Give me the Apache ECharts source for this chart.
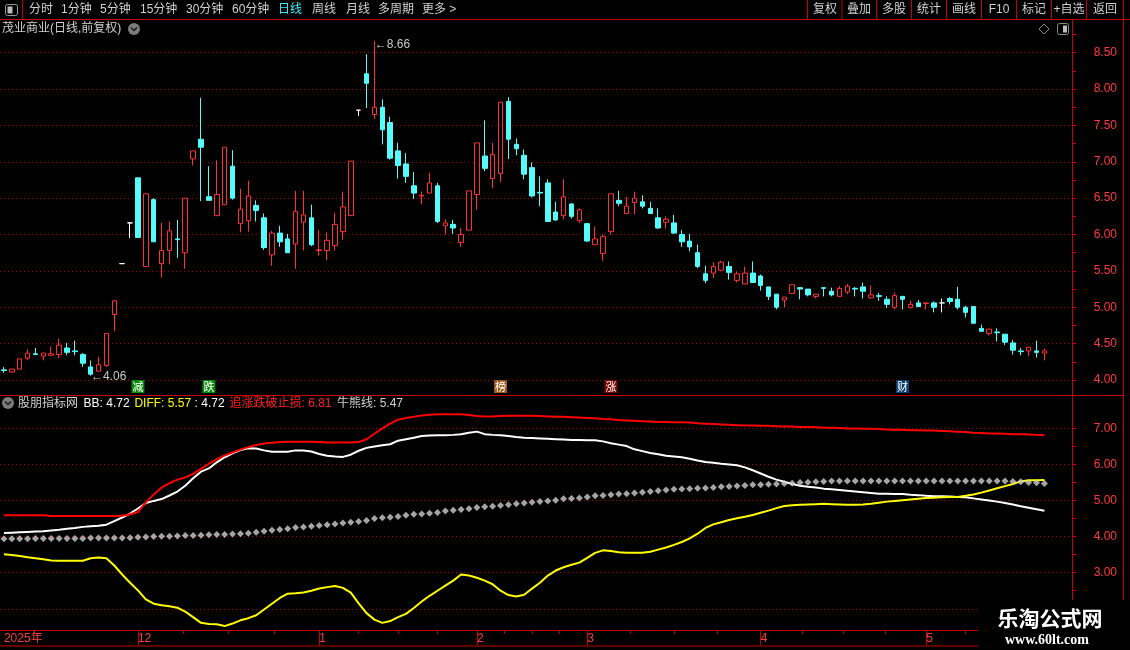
<!DOCTYPE html>
<html><head><meta charset="utf-8">
<script src="https://cdn.jsdelivr.net/npm/echarts@6/dist/echarts.min.js"></script>
<style>html,body{margin:0;padding:0;background:#000;overflow:hidden}#c{width:1130px;height:650px}</style>
</head><body><div id="c"></div>
<script>
// ---------------- data ----------------
const SLOTS = 136;
const categories = Array.from({length: SLOTS}, (_, i) => 'D' + (i + 1));

const open = [4.14,4.11,4.15,4.30,4.36,4.33,4.34,4.35,4.44,4.40,
4.35,4.18,4.12,4.20,4.90,5.60,6.16,6.78,5.56,6.48,
5.60,5.78,5.94,5.75,7.04,7.31,6.52,6.26,6.41,6.94,
6.15,6.19,6.40,6.23,5.72,6.02,5.94,5.87,6.17,6.23,
5.78,5.78,5.85,6.04,6.26,7.71,8.21,7.65,7.75,7.54,
7.15,6.97,6.67,6.53,6.57,6.67,6.12,6.14,5.89,6.06,
6.55,7.08,6.77,6.84,7.83,7.24,7.09,6.92,6.58,6.71,
6.31,6.26,6.42,6.19,6.15,5.86,5.74,6.04,6.47,6.29,
6.44,6.45,6.36,6.23,6.17,6.16,6.00,5.91,5.75,5.46,
5.47,5.51,5.56,5.37,5.32,5.47,5.43,5.28,5.18,5.10,
5.19,5.27,5.25,5.15,5.27,5.22,5.15,5.21,5.26,5.28,
5.13,5.16,5.11,5.00,5.15,5.00,5.06,5.05,5.06,5.06,
5.12,5.11,5.00,5.01,4.71,4.64,4.66,4.63,4.51,4.40,
4.40,4.40,4.37];
const close = [4.13,4.15,4.29,4.37,4.35,4.37,4.36,4.48,4.38,4.39,
4.23,4.08,4.21,4.64,5.09,5.60,6.16,5.96,6.56,5.90,
5.78,6.05,5.93,6.50,7.15,7.20,6.47,6.55,7.20,6.50,
6.35,6.53,6.33,5.82,6.02,5.90,5.75,6.32,6.27,5.86,
5.79,5.92,6.14,6.38,7.01,7.71,8.08,7.75,7.44,7.05,
6.95,6.80,6.57,6.54,6.71,6.18,6.16,6.09,6.00,6.60,
7.26,6.91,7.10,7.82,7.31,7.18,6.83,6.53,6.57,6.18,
6.20,6.52,6.25,6.34,5.91,5.94,5.97,6.56,6.43,6.39,
6.50,6.39,6.29,6.09,6.21,6.02,5.90,5.83,5.56,5.37,
5.56,5.62,5.48,5.46,5.47,5.34,5.30,5.15,5.00,5.14,
5.31,5.25,5.17,5.18,5.26,5.17,5.26,5.29,5.25,5.22,
5.17,5.15,5.04,5.16,5.11,5.04,5.01,5.06,5.00,5.06,
5.08,5.00,4.93,4.78,4.67,4.70,4.65,4.52,4.41,4.39,
4.45,4.38,4.40];
const low = [4.10,4.10,4.15,4.27,4.35,4.27,4.34,4.30,4.34,4.34,
4.18,4.06,4.12,4.18,4.67,5.60,5.95,5.95,5.56,5.90,
5.41,5.59,5.68,5.53,6.95,6.46,6.47,6.26,6.41,6.48,
6.03,6.04,6.18,5.79,5.57,5.83,5.75,5.53,5.78,5.84,
5.71,5.65,5.78,5.93,6.26,7.63,7.74,7.59,7.24,7.03,
6.77,6.71,6.49,6.42,6.57,6.16,6.00,6.01,5.83,6.06,
6.34,6.87,6.64,6.72,7.04,7.09,6.76,6.51,6.39,6.18,
6.19,6.21,6.22,6.16,5.90,5.86,5.64,6.00,6.39,6.29,
6.28,6.36,6.28,6.08,6.08,6.01,5.83,5.77,5.54,5.33,
5.40,5.51,5.38,5.34,5.32,5.34,5.23,5.10,4.97,5.00,
5.19,5.11,5.15,5.12,5.15,5.15,5.15,5.18,5.15,5.12,
5.12,5.09,4.99,4.97,4.97,4.98,5.00,4.97,4.93,4.93,
5.04,4.97,4.86,4.78,4.66,4.61,4.53,4.48,4.35,4.34,
4.33,4.31,4.27];
const high = [4.18,4.15,4.29,4.42,4.44,4.37,4.46,4.57,4.51,4.54,
4.37,4.27,4.32,4.64,5.09,5.60,6.16,6.78,6.56,6.50,
6.16,6.18,6.20,6.50,7.15,7.88,6.94,7.02,7.20,7.16,
6.63,6.74,6.47,6.29,6.05,6.12,6.01,6.60,6.60,6.41,
6.06,6.03,6.30,6.59,7.01,7.71,8.48,8.66,7.86,7.62,
7.26,7.12,6.86,6.59,6.85,6.71,6.21,6.20,6.09,6.60,
7.26,7.57,7.26,7.82,7.89,7.32,7.17,6.99,6.80,6.76,
6.45,6.76,6.43,6.36,6.16,6.11,6.00,6.56,6.60,6.52,
6.59,6.54,6.45,6.36,6.25,6.27,6.06,6.01,5.86,5.57,
5.62,5.64,5.63,5.49,5.56,5.63,5.45,5.28,5.18,5.14,
5.31,5.28,5.25,5.18,5.27,5.27,5.29,5.32,5.28,5.34,
5.30,5.20,5.15,5.20,5.15,5.09,5.10,5.06,5.08,5.12,
5.14,5.28,5.02,5.01,4.76,4.70,4.71,4.63,4.55,4.44,
4.45,4.54,4.43];

// indicator lines (lower panel)
const stopLine = [4.59,4.59,4.59,4.59,4.59,4.59,4.57,4.57,4.57,4.57,
4.57,4.57,4.57,4.57,4.57,4.58,4.62,4.68,4.95,5.17,
5.36,5.48,5.58,5.64,5.74,5.88,6.02,6.14,6.25,6.33,
6.41,6.48,6.54,6.58,6.60,6.62,6.63,6.63,6.63,6.63,
6.62,6.61,6.61,6.61,6.61,6.62,6.70,6.85,7.00,7.13,
7.24,7.29,7.32,7.36,7.38,7.39,7.39,7.39,7.39,7.37,
7.34,7.33,7.33,7.34,7.35,7.35,7.35,7.35,7.34,7.33,
7.32,7.32,7.31,7.30,7.29,7.28,7.26,7.25,7.23,7.22,
7.21,7.20,7.19,7.18,7.18,7.17,7.17,7.16,7.14,7.13,
7.12,7.11,7.10,7.09,7.08,7.08,7.07,7.07,7.06,7.05,
7.05,7.04,7.04,7.03,7.02,7.02,7.01,7.00,7.00,6.99,
6.99,6.98,6.97,6.96,6.96,6.95,6.95,6.94,6.94,6.93,
6.92,6.91,6.90,6.88,6.87,6.86,6.86,6.85,6.84,6.84,
6.83,6.82,6.81];
const bbLine = [4.10,4.11,4.12,4.13,4.14,4.15,4.17,4.19,4.22,4.24,
4.27,4.29,4.30,4.33,4.43,4.53,4.64,4.78,4.93,4.99,
5.04,5.14,5.25,5.41,5.62,5.80,5.89,6.06,6.20,6.31,
6.40,6.45,6.44,6.39,6.35,6.35,6.35,6.39,6.39,6.36,
6.29,6.24,6.22,6.21,6.27,6.38,6.46,6.50,6.53,6.56,
6.66,6.70,6.74,6.79,6.80,6.81,6.81,6.82,6.84,6.88,
6.91,6.84,6.82,6.81,6.79,6.76,6.74,6.73,6.72,6.71,
6.70,6.69,6.68,6.68,6.67,6.67,6.64,6.59,6.55,6.51,
6.42,6.37,6.32,6.28,6.24,6.22,6.20,6.16,6.11,6.07,
6.05,6.02,6.00,5.98,5.92,5.84,5.75,5.66,5.58,5.52,
5.46,5.41,5.38,5.36,5.33,5.31,5.29,5.27,5.25,5.23,
5.21,5.19,5.19,5.18,5.18,5.16,5.15,5.13,5.12,5.12,
5.11,5.10,5.09,5.06,5.03,5.00,4.97,4.93,4.89,4.84,
4.80,4.76,4.72];
const diffLine = [3.51,3.49,3.46,3.43,3.40,3.37,3.34,3.33,3.33,3.33,
3.33,3.40,3.42,3.40,3.20,2.95,2.72,2.51,2.26,2.14,
2.10,2.07,2.03,1.92,1.77,1.61,1.58,1.57,1.52,1.59,
1.68,1.74,1.82,1.98,2.14,2.30,2.42,2.43,2.45,2.50,
2.56,2.60,2.63,2.58,2.45,2.15,1.88,1.70,1.61,1.66,
1.77,1.86,2.02,2.20,2.36,2.50,2.64,2.78,2.95,2.92,
2.86,2.78,2.68,2.50,2.38,2.34,2.39,2.56,2.72,2.92,
3.06,3.15,3.22,3.28,3.41,3.55,3.62,3.60,3.57,3.55,
3.55,3.55,3.58,3.64,3.70,3.77,3.85,3.95,4.08,4.24,
4.34,4.40,4.46,4.51,4.55,4.60,4.66,4.72,4.79,4.85,
4.87,4.88,4.89,4.90,4.91,4.90,4.89,4.88,4.88,4.89,
4.91,4.94,4.97,4.99,5.01,5.03,5.05,5.07,5.08,5.09,
5.10,5.10,5.13,5.17,5.22,5.28,5.34,5.40,5.46,5.53,
5.56,5.56,5.57];
const bullBear = [3.94,3.94,3.94,3.94,3.95,3.95,3.95,3.95,3.95,3.95,
3.95,3.96,3.96,3.96,3.96,3.96,3.97,3.98,3.99,4.00,
4.01,4.01,4.02,4.03,4.03,4.04,4.05,4.06,4.06,4.07,
4.08,4.09,4.12,4.15,4.18,4.20,4.22,4.25,4.27,4.29,
4.31,4.33,4.35,4.38,4.40,4.42,4.45,4.50,4.52,4.54,
4.56,4.59,4.62,4.63,4.65,4.67,4.71,4.73,4.75,4.77,
4.81,4.83,4.84,4.86,4.88,4.91,4.93,4.95,4.97,4.99,
5.01,5.05,5.06,5.07,5.10,5.13,5.14,5.16,5.18,5.19,
5.21,5.23,5.25,5.27,5.29,5.31,5.32,5.33,5.34,5.35,
5.36,5.38,5.39,5.40,5.42,5.44,5.44,5.45,5.46,5.47,
5.48,5.50,5.51,5.52,5.53,5.54,5.54,5.54,5.54,5.54,
5.54,5.54,5.54,5.54,5.54,5.54,5.54,5.54,5.54,5.54,
5.54,5.54,5.54,5.54,5.54,5.54,5.54,5.54,5.53,5.52,
5.50,5.49,5.47];

// event tags under candles
const eventIdx = [17, 26, 63, 77, 114];
const eventText = ['减', '跌', '榜', '涨', '财'];

// axis ticks / labels
const priceTicks = [4.00,4.25,4.50,4.75,5.00,5.25,5.50,5.75,6.00,6.25,6.50,6.75,7.00,7.25,7.50,7.75,8.00,8.25,8.50,8.75];
const priceLabels = [4.00,4.50,5.00,5.50,6.00,6.50,7.00,7.50,8.00,8.50];
const indTicks = [2.0,2.5,3.0,3.5,4.0,4.5,5.0,5.5,6.0,6.5,7.0];
const indLabels = [2,3,4,5,6,7];
const monthPos = [0, 17, 40, 60, 74, 96, 117];
const monthLabels = ['2025年', '12', '1', '2', '3', '4', '5'];

// ---------------- styles ----------------
const RED = '#ff3232', CYAN = '#54fcfc', FRAME = '#c40000', AXTXT = '#ff3c3c', GRIDC = '#a80000';
const FONT = '"Liberation Sans","Noto Sans CJK SC",sans-serif';
const tagStyle = {'减': '#0a8a0a', '跌': '#0a8a0a', '榜': '#9b5a17', '涨': '#7a0808', '财': '#0d3f6e'};

const kData = open.map((o, i) => [o, close[i], low[i], high[i]]);
const last = a => a[a.length - 1].toFixed(2);

const monthTickPos = monthPos.slice(1);
const quarterPos = [];
const bounds = monthPos.slice(1).concat([137]);
for (let m = 0; m < bounds.length - 1; m++) {
  for (let k = 1; k < 4; k++) {
    const v = bounds[m] + (bounds[m + 1] - bounds[m]) * k / 4;
    if (v < SLOTS - 3) quarterPos.push(v);
  }
}

const G0 = {top: 19, height: 376}, G1 = {top: 395, height: 235};
const pMin = 4 - (395 - 380) / 72.73, pMax = 4 + (380 - 19) / 72.73;
const iMin = 3 - (630 - 572.7) / 36.08, iMax = 3 + (572.7 - 395) / 36.08;

const chart = echarts.init(document.getElementById('c'), null, {renderer: 'canvas'});

const g = [];
function txt(x, y, s, color, size, align, extra) {
  g.push(Object.assign({type: 'text', x, y, z: 50, style: {text: s, fill: color, font: (size || 12) + 'px ' + FONT, textAlign: align || 'left', textVerticalAlign: 'middle'}}, extra || {}));
}
function line(x1, y1, x2, y2, color, w) {
  g.push({type: 'line', z: 40, shape: {x1, y1, x2, y2}, style: {stroke: color || FRAME, lineWidth: w || 1}});
}
// toolbar
line(0, 19.5, 1130, 19.5);
line(22.5, 0, 22.5, 19);
[807.5, 842, 876.5, 911.5, 946.5, 981.5, 1016.5, 1051.5, 1086.5, 1123.5].forEach(x => line(x, 0, x, 19));
g.push({type: 'rect', z: 50, shape: {x: 5.5, y: 4.5, width: 12, height: 11, r: 2}, style: {stroke: '#9a9a9a', fill: 'none', lineWidth: 1}});
g.push({type: 'rect', z: 50, shape: {x: 7.5, y: 6.5, width: 5, height: 7}, style: {fill: '#bdbdbd'}});
[['分时', 29], ['1分钟', 61], ['5分钟', 100], ['15分钟', 140], ['30分钟', 186], ['60分钟', 232], ['日线', 278], ['周线', 312], ['月线', 346], ['多周期', 378], ['更多 >', 422]]
  .forEach(([s, x]) => txt(x, 10, s, s === '日线' ? '#3ff0ff' : '#d0d0d0', 12));
[['复权', 825], ['叠加', 859], ['多股', 894], ['统计', 929], ['画线', 964], ['F10', 999], ['标记', 1034], ['+自选', 1069], ['返回', 1105]]
  .forEach(([s, x]) => txt(x, 10, s, '#d0d0d0', 12, 'center'));
// title row
txt(2, 29, '茂业商业(日线,前复权)', '#d0d0d0', 12);
function chevron(cx, cy) {
  g.push({type: 'circle', z: 50, shape: {cx, cy, r: 6}, style: {fill: '#7c7c7c'}});
  g.push({type: 'polyline', z: 51, shape: {points: [[cx - 3, cy - 1.5], [cx, cy + 1.5], [cx + 3, cy - 1.5]]}, style: {stroke: '#1a1a1a', lineWidth: 1.5, fill: 'none'}});
}
chevron(134, 29);
g.push({type: 'polygon', z: 50, shape: {points: [[1044, 24], [1049, 29], [1044, 34], [1039, 29]]}, style: {stroke: '#8a8a8a', fill: 'none', lineWidth: 1}});
g.push({type: 'rect', z: 50, shape: {x: 1057.5, y: 23.5, width: 11, height: 11, r: 2}, style: {stroke: '#8a8a8a', fill: 'none', lineWidth: 1}});
g.push({type: 'rect', z: 50, shape: {x: 1063, y: 25.5, width: 4, height: 7}, style: {fill: '#bdbdbd'}});
// frame
line(0, 395.5, 1123, 395.5);
line(1123.5, 19, 1123.5, 600);
line(0, 646, 978, 646);
// lower legend
chevron(8, 403);
txt(18, 404, '股朋指标网', '#cfcfcf', 12);
txt(83.6, 404, 'BB: ' + last(bbLine), '#ffffff', 12);
txt(134.4, 404, 'DIFF: ' + last(diffLine), '#ffff00', 12);
txt(194.6, 404, ': ' + last(bbLine), '#ffffff', 12);
txt(229.5, 404, '追涨跌破止损: ' + last(stopLine), '#ff2020', 12);
txt(337, 404, '牛熊线: ' + last(bullBear), '#cfcfcf', 12);
// watermark
g.push({type: 'rect', z: 90, shape: {x: 978, y: 600, width: 152, height: 50}, style: {fill: '#000'}});
g.push({type: 'text', z: 91, x: 1050, y: 618, style: {text: '乐淘公式网', fill: '#ffffff', font: 'bold 21px "Noto Sans CJK SC",sans-serif', textAlign: 'center', textVerticalAlign: 'middle'}});
g.push({type: 'text', z: 91, x: 1047, y: 640, style: {text: 'www.60lt.com', fill: '#ffffff', font: 'bold 14px "Liberation Serif",serif', textAlign: 'center', textVerticalAlign: 'middle'}});

const markData = [
  {type: 'max', valueDim: 'highest', symbolSize: 1, itemStyle: {color: 'rgba(0,0,0,0)'},
   label: {show: true, position: 'right', distance: 0, offset: [0, 4], color: '#c8c8c8', fontSize: 12, fontFamily: FONT, formatter: p => '←' + Number(p.value).toFixed(2)}},
  {type: 'min', valueDim: 'lowest', symbolSize: 1, itemStyle: {color: 'rgba(0,0,0,0)'},
   label: {show: true, position: 'right', distance: 0, offset: [0, 1], color: '#c8c8c8', fontSize: 12, fontFamily: FONT, formatter: p => '←' + Number(p.value).toFixed(2)}}
].concat(eventIdx.map((ix, k) => ({
  coord: [ix, 3.91], value: eventText[k], symbol: 'rect', symbolSize: [13, 13],
  itemStyle: {color: tagStyle[eventText[k]]},
  label: {show: true, position: 'inside', color: '#ffffff', fontSize: 11, fontFamily: '"Noto Sans CJK SC",sans-serif', formatter: eventText[k]}
})));

const yLine = {show: true, onZero: false, lineStyle: {color: FRAME}};
const option = {
  backgroundColor: '#000',
  animation: false,
  grid: [
    {left: 0, width: 1072, top: G0.top, height: G0.height, containLabel: false},
    {left: 0, width: 1072, top: G1.top, height: G1.height, containLabel: false}
  ],
  xAxis: [
    {type: 'category', gridIndex: 0, data: categories, boundaryGap: true, axisLine: {show: false, onZero: false}, axisTick: {show: false}, axisLabel: {show: false}, splitLine: {show: false}},
    {type: 'category', gridIndex: 1, data: categories, boundaryGap: true, axisLine: {show: true, onZero: false, lineStyle: {color: FRAME, width: 1}}, axisTick: {show: false}, axisLabel: {show: false}, splitLine: {show: false}},
    {type: 'value', gridIndex: 1, min: -0.5, max: SLOTS - 0.5, position: 'bottom', axisLine: {show: false, onZero: false},
     axisTick: {show: true, inside: false, length: 15, customValues: monthTickPos, lineStyle: {color: FRAME}},
     axisLabel: {show: true, customValues: monthPos, color: AXTXT, fontSize: 12, fontFamily: FONT, align: 'left', margin: 3, formatter: v => monthLabels[monthPos.indexOf(Math.round(v))] || ''},
     splitLine: {show: false}},
    {type: 'value', gridIndex: 1, min: -0.5, max: SLOTS - 0.5, position: 'bottom', axisLine: {show: false, onZero: false},
     axisTick: {show: true, inside: false, length: 4, customValues: quarterPos, lineStyle: {color: FRAME}},
     axisLabel: {show: false}, splitLine: {show: false}}
  ],
  yAxis: [
    {type: 'value', gridIndex: 0, position: 'right', min: pMin, max: pMax, scale: true,
     axisLine: yLine,
     axisTick: {show: true, inside: false, length: 4, customValues: priceTicks, lineStyle: {color: FRAME}},
     axisLabel: {show: true, customValues: priceLabels, color: AXTXT, fontSize: 12, fontFamily: FONT, align: 'right', margin: 45, formatter: v => v.toFixed(2)},
     splitLine: {show: false}},
    {type: 'value', gridIndex: 0, position: 'right', min: pMin, max: pMax, scale: true,
     axisLine: {show: false, onZero: false}, axisTick: {show: false, customValues: priceLabels}, axisLabel: {show: false},
     splitLine: {show: true, lineStyle: {color: GRIDC, type: [1, 3], width: 1}}},
    {type: 'value', gridIndex: 1, position: 'right', min: iMin, max: iMax, scale: true,
     axisLine: yLine,
     axisTick: {show: true, inside: false, length: 4, customValues: indTicks, lineStyle: {color: FRAME}},
     axisLabel: {show: true, customValues: indLabels, color: AXTXT, fontSize: 12, fontFamily: FONT, align: 'right', margin: 45, formatter: v => v.toFixed(2)},
     splitLine: {show: false}},
    {type: 'value', gridIndex: 1, position: 'right', min: iMin, max: iMax, scale: true,
     axisLine: {show: false, onZero: false}, axisTick: {show: false, customValues: indLabels}, axisLabel: {show: false},
     splitLine: {show: true, lineStyle: {color: GRIDC, type: [1, 3], width: 1}}}
  ],
  series: [
    {type: 'candlestick', name: 'K', xAxisIndex: 0, yAxisIndex: 0, data: kData, barWidth: 5,
     itemStyle: {color: '#000000', color0: CYAN, borderColor: RED, borderColor0: CYAN, borderColorDoji: '#ffffff', borderWidth: 1},
     markPoint: {animation: false, data: markData}},
    {type: 'line', name: 'BB', xAxisIndex: 1, yAxisIndex: 2, data: bbLine, symbol: 'none', lineStyle: {color: '#ffffff', width: 2}, z: 3},
    {type: 'line', name: 'DIFF', xAxisIndex: 1, yAxisIndex: 2, data: diffLine, symbol: 'none', lineStyle: {color: '#ffff00', width: 2}, z: 4},
    {type: 'line', name: '追涨跌破止损', xAxisIndex: 1, yAxisIndex: 2, data: stopLine, symbol: 'none', lineStyle: {color: '#ff0000', width: 2}, z: 5},
    {type: 'scatter', name: '牛熊线', xAxisIndex: 1, yAxisIndex: 2, data: bullBear, symbol: 'diamond', symbolSize: 7, itemStyle: {color: '#cdcdcd'}, z: 6}
  ],
  graphic: g
};
chart.setOption(option);
</script>
</body></html>
